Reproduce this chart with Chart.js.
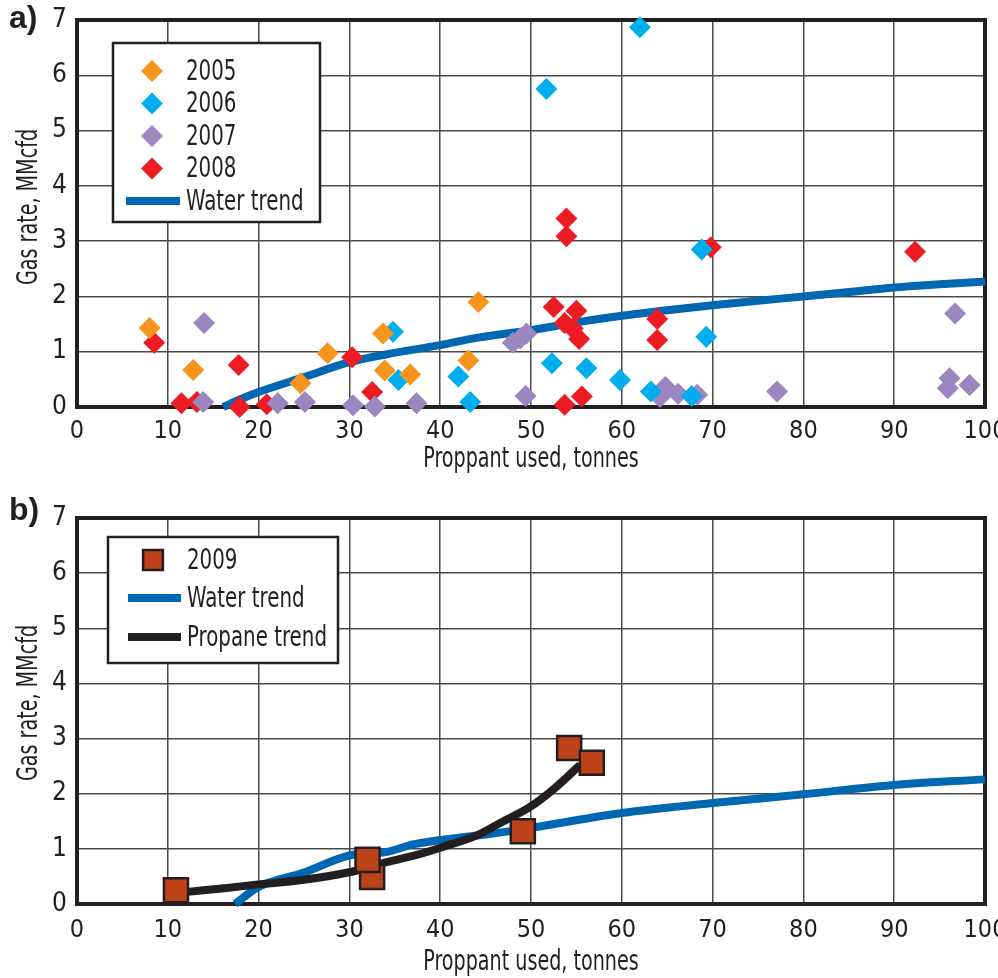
<!DOCTYPE html>
<html lang="en">
<head>
<meta charset="UTF-8">
<title>Gas rate vs proppant used</title>
<script src="https://cdn.jsdelivr.net/npm/chart.js@4.4.0/dist/chart.umd.min.js"></script>
<style>
  body { margin: 0; background: #fff; }
  .panel { position: absolute; left: 0; width: 998px; height: 489px; }
  #panelA { top: 0; }
  #panelB { top: 489px; }
</style>
</head>
<body>
<div class="panel" id="panelA"><canvas id="chartA" width="998" height="489"></canvas></div>
<div class="panel" id="panelB"><canvas id="chartB" width="998" height="489"></canvas></div>

<script>
// ---- data (proppant tonnes / gas rate MMcfd) ----
const x2005 = [8.0, 12.8, 24.6, 27.6, 33.7, 33.9, 36.7, 43.1, 44.2];
const y2005 = [1.43, 0.67, 0.43, 0.97, 1.33, 0.66, 0.59, 0.84, 1.90];

const x2006 = [34.8, 35.4, 42.0, 43.3, 51.7, 52.3, 56.1, 59.8, 62.0, 63.2, 67.7, 68.8, 69.3];
const y2006 = [1.36, 0.49, 0.55, 0.09, 5.75, 0.79, 0.70, 0.49, 6.87, 0.28, 0.20, 2.85, 1.27];

const x2007 = [14.0, 13.9, 22.1, 25.1, 30.4, 32.8, 37.4, 48.0, 48.8, 49.5, 49.4, 64.2, 64.8, 66.2, 68.3, 77.1, 95.9, 96.1, 96.7, 98.3];
const y2007 = [1.52, 0.09, 0.07, 0.09, 0.03, 0.01, 0.07, 1.16, 1.24, 1.33, 0.20, 0.18, 0.36, 0.24, 0.22, 0.28, 0.34, 0.52, 1.69, 0.40];

const x2008 = [8.5, 11.5, 13.2, 17.8, 17.9, 20.9, 30.3, 32.5, 52.5, 53.7, 53.9, 53.9, 54.6, 55.0, 55.3, 53.7, 55.6, 63.9, 63.9, 69.8, 92.3];
const y2008 = [1.16, 0.07, 0.09, 0.76, 0.00, 0.05, 0.90, 0.27, 1.81, 1.52, 3.41, 3.09, 1.42, 1.74, 1.23, 0.04, 0.19, 1.59, 1.21, 2.89, 2.81];

const waterAX = [16.1, 18, 20, 25, 30, 34, 40, 44, 50, 55, 60, 65, 70, 75, 80, 85, 90, 95, 100];
const waterAY = [0, 0.14, 0.27, 0.54, 0.81, 0.95, 1.12, 1.25, 1.39, 1.53, 1.65, 1.75, 1.84, 1.92, 2.00, 2.08, 2.16, 2.22, 2.27];

const x2009 = [10.9, 32.5, 32.0, 49.1, 54.2, 56.7];
const y2009 = [0.25, 0.49, 0.80, 1.32, 2.83, 2.56];

const waterBX = [17.4, 20, 25, 30, 34, 37, 40, 45, 50, 60, 70, 80, 90, 100];
const waterBY = [0, 0.31, 0.57, 0.88, 0.94, 1.08, 1.16, 1.26, 1.38, 1.65, 1.83, 1.99, 2.16, 2.26];

const propaneX = [12.2, 16.5, 20.2, 24.6, 30.1, 33.7, 37.4, 40.2, 44.1, 46.6, 49.9, 52.4, 55.4];
const propaneY = [0.22, 0.29, 0.36, 0.43, 0.58, 0.74, 0.89, 1.03, 1.25, 1.47, 1.76, 2.07, 2.52];

const xTicks = [0, 10, 20, 30, 40, 50, 60, 70, 80, 90, 100];
const yTicks = [0, 1, 2, 3, 4, 5, 6, 7];

const xTitle = 'Proppant used, tonnes';
const yTitle = 'Gas rate, MMcfd';

// ---- styling ----
const ink = '#231f20';
const gridCol = '#4a4a4a';
const face = "'Liberation Sans Narrow', 'DejaVu Sans Condensed', 'Arial Narrow', sans-serif";
const squeeze = 0.76; // the original type is a narrow condensed face
Chart.defaults.font.family = face;
Chart.defaults.color = ink;

const pts = (xs, ys) => xs.map((x, i) => ({ x: x, y: ys[i] }));

function scatterSet(label, xs, ys, color) {
  return {
    label: label, data: pts(xs, ys), showLine: false, clip: false,
    pointStyle: 'rectRot', pointRadius: 11, pointHoverRadius: 11,
    backgroundColor: color, borderColor: color, pointBorderWidth: 0
  };
}

function trendSet(label, xs, ys, color) {
  return {
    label: label, data: pts(xs, ys), showLine: true, pointRadius: 0,
    borderColor: color, backgroundColor: color, borderWidth: 8,
    cubicInterpolationMode: 'monotone', clip: false
  };
}

// condensed text: draw with a max width so the glyphs get narrowed
function narrow(ctx, text, x, y, size) {
  ctx.font = size + 'px ' + face;
  const w = ctx.measureText(text).width;
  ctx.fillText(text, x, y, w * squeeze);
}

// frame, panel tag, axis titles and the legend inside the plot
const decor = {
  id: 'decor',
  beforeDatasetsDraw(chart) {
    const a = chart.chartArea, ctx = chart.ctx;
    ctx.save();
    ctx.strokeStyle = ink;
    ctx.lineWidth = 4;
    ctx.strokeRect(a.left, a.top, a.right - a.left, a.bottom - a.top);
    ctx.restore();
  },
  afterDraw(chart, args, o) {
    const ctx = chart.ctx, a = chart.chartArea;
    ctx.save();
    ctx.fillStyle = ink;
    ctx.font = "bold 32px 'Liberation Sans', 'DejaVu Sans', sans-serif";
    ctx.textBaseline = 'alphabetic';
    ctx.textAlign = 'left';
    ctx.fillText(o.tag, 9, o.tagY);

    // axis titles
    ctx.textAlign = 'center';
    narrow(ctx, xTitle, (a.left + a.right) / 2, o.xTitleY, 28);
    ctx.save();
    ctx.translate(o.yTitleX, o.yTitleCY);
    ctx.rotate(-Math.PI / 2);
    narrow(ctx, yTitle, 0, 0, 28);
    ctx.restore();

    // legend
    const b = o.box;
    ctx.fillStyle = '#fff';
    ctx.fillRect(b.left, b.top, b.width, b.height);
    ctx.lineWidth = 2.5;
    ctx.strokeStyle = ink;
    ctx.strokeRect(b.left, b.top, b.width, b.height);

    ctx.textBaseline = 'middle';
    ctx.textAlign = 'left';
    o.order.forEach((di, row) => {
      const ds = chart.data.datasets[di];
      const y = o.rows[row];
      if (ds.showLine) {
        ctx.strokeStyle = ds.borderColor;
        ctx.lineWidth = 8;
        ctx.beginPath();
        ctx.moveTo(o.lineFrom, y);
        ctx.lineTo(o.lineTo, y);
        ctx.stroke();
      } else {
        ctx.fillStyle = ds.backgroundColor;
        ctx.strokeStyle = ds.borderColor;
        ctx.lineWidth = ds.pointBorderWidth || 0;
        Chart.helpers.drawPoint(ctx, {
          pointStyle: ds.pointStyle, radius: o.markerR || ds.pointRadius,
          borderWidth: ds.pointBorderWidth || 0, rotation: 0
        }, o.markerX, y);
      }
      ctx.fillStyle = ink;
      narrow(ctx, ds.label, o.textX, y + 1, 29);
    });
    ctx.restore();
  }
};

function scales(c) {
  return {
    x: {
      type: 'linear', min: 0, max: 100,
      afterBuildTicks(s) { s.ticks = xTicks.map(v => ({ value: v })); },
      ticks: { padding: c.xPad, font: { size: 25 }, color: ink, maxRotation: 0, autoSkip: false },
      grid: { color: gridCol, lineWidth: 1.5, drawTicks: false },
      border: { display: false },
      title: { display: false },
      afterFit(s) { s.height = c.xH; s.paddingLeft = 0; s.paddingRight = 0; }
    },
    y: {
      type: 'linear', min: 0, max: 7,
      afterBuildTicks(s) { s.ticks = yTicks.map(v => ({ value: v })); },
      ticks: { padding: 10, font: { size: 26 }, color: ink },
      grid: { color: gridCol, lineWidth: 1.5, drawTicks: false },
      border: { display: false },
      title: { display: false },
      afterFit(s) { s.width = 77; s.paddingTop = 0; s.paddingBottom = 0; }
    }
  };
}

const common = {
  responsive: false, animation: false, devicePixelRatio: 1,
  events: []
};

new Chart(document.getElementById('chartA'), {
  type: 'scatter',
  data: {
    datasets: [
      scatterSet('2005', x2005, y2005, '#f7941d'),
      scatterSet('2006', x2006, y2006, '#00aeef'),
      scatterSet('2007', x2007, y2007, '#9b86bf'),
      scatterSet('2008', x2008, y2008, '#ed1c24'),
      trendSet('Water trend', waterAX, waterAY, '#0068b3')
    ]
  },
  options: Object.assign({}, common, {
    layout: { autoPadding: false, padding: { top: 20, right: 13, bottom: 0, left: 0 } },
    scales: scales({ xPad: 9, xH: 82 }),
    plugins: {
      legend: { display: false }, tooltip: { enabled: false },
      decor: {
        tag: 'a)', tagY: 28,
        xTitleY: 467, yTitleX: 37, yTitleCY: 207,
        box: { left: 113, top: 43, width: 207, height: 179 },
        order: [0, 1, 2, 3, 4],
        rows: [71, 103.5, 136, 168.5, 201],
        markerX: 152, textX: 186, lineFrom: 126, lineTo: 180
      }
    }
  }),
  plugins: [decor]
});

new Chart(document.getElementById('chartB'), {
  type: 'scatter',
  data: {
    datasets: [
      {
        label: '2009', data: pts(x2009, y2009), showLine: false, clip: false,
        pointStyle: 'rect', pointRadius: 17, pointHoverRadius: 17,
        backgroundColor: '#bd4219', borderColor: ink, pointBorderWidth: 2.5
      },
      trendSet('Propane trend', propaneX, propaneY, ink),
      trendSet('Water trend', waterBX, waterBY, '#0068b3')
    ]
  },
  options: Object.assign({}, common, {
    layout: { autoPadding: false, padding: { top: 29, right: 13, bottom: 0, left: 0 } },
    scales: scales({ xPad: 11, xH: 74 }),
    plugins: {
      legend: { display: false }, tooltip: { enabled: false },
      decor: {
        tag: 'b)', tagY: 31,
        xTitleY: 481, yTitleX: 37, yTitleCY: 214,
        box: { left: 108, top: 48, width: 230, height: 126 },
        order: [0, 2, 1],
        rows: [71, 109, 148],
        markerX: 153, markerR: 14, textX: 187, lineFrom: 128, lineTo: 181
      }
    }
  }),
  plugins: [decor]
});
</script>
</body>
</html>
